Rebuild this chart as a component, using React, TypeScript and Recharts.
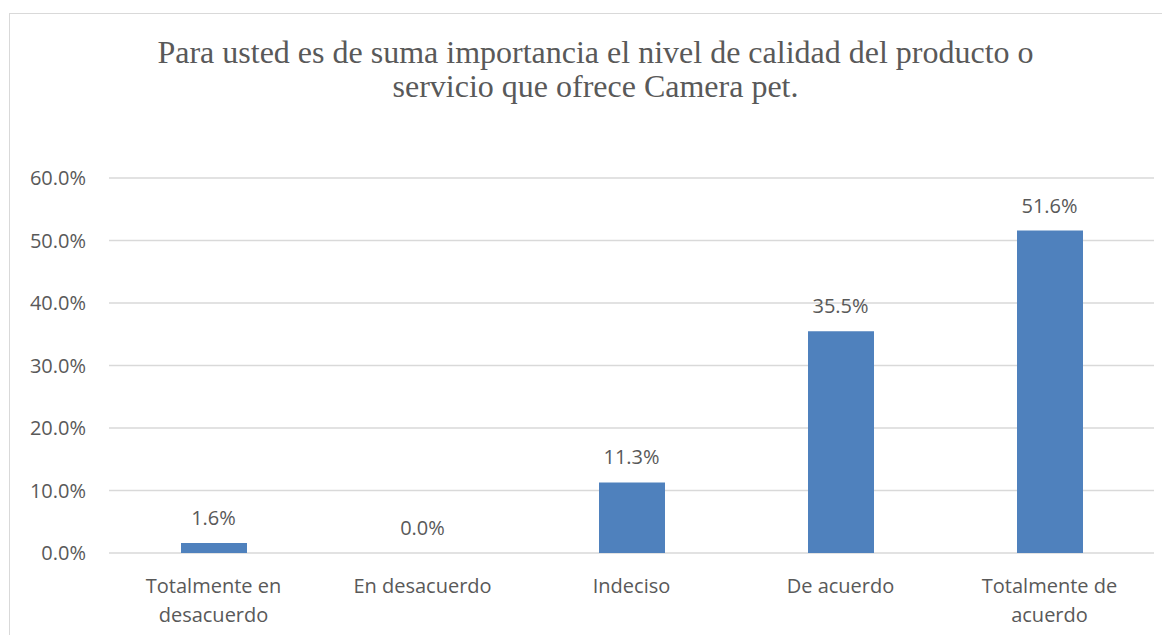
import React from 'react';
import { ComposedChart, Bar, Line, XAxis, YAxis, CartesianGrid, LabelList } from 'recharts';

const TITLE_LINES = [
  'Para usted es de suma importancia el nivel de calidad del producto o',
  'servicio que ofrece Camera pet.',
];

const categories = [
  'Totalmente en desacuerdo',
  'En desacuerdo',
  'Indeciso',
  'De acuerdo',
  'Totalmente de acuerdo',
];
const percentages = [1.6, 0.0, 11.3, 35.5, 51.6];
const yTicks = [0, 10, 20, 30, 40, 50, 60];

const data = categories.map((name, i) => ({ name, value: percentages[i] }));

const TEXT = '#595959';
const GRID = '#d9d9d9';
const BAR = '#4f81bd';
const SANS = '"Open Sans", sans-serif';

const fmt = (v: number) => `${Number(v).toFixed(1)}%`;

// greedy word wrap, roughly like Excel does for these labels
const wrap = (s: string, max = 13) => {
  const out: string[] = [];
  let line = '';
  s.split(' ').forEach((w) => {
    const next = line ? `${line} ${w}` : w;
    if (next.length > max && line) {
      out.push(line);
      line = w;
    } else {
      line = next;
    }
  });
  if (line) out.push(line);
  return out;
};

const CategoryTick = (props: any) => {
  const { x, y, payload } = props;
  const lines = wrap(payload.value);
  return (
    <text x={x} y={y} textAnchor="middle" fill={TEXT} fontSize={20} fontFamily={SANS}>
      {lines.map((l, i) => (
        <tspan key={i} x={x} dy={i === 0 ? 32 : 29}>
          {l}
        </tspan>
      ))}
    </text>
  );
};

export default function App() {
  return (
    <div style={{ position: 'relative', width: 1170, height: 643, margin: -8, overflow: 'hidden', background: '#fff' }}>
      <div
        style={{
          position: 'absolute',
          left: 9,
          top: 13,
          width: 1200,
          height: 700,
          border: `1.5px solid ${GRID}`,
          boxSizing: 'border-box',
        }}
      />
      <div
        style={{
          position: 'absolute',
          left: 0,
          top: 35,
          width: 1191,
          textAlign: 'center',
          fontFamily: '"Liberation Serif", "Times New Roman", serif',
          fontSize: 32,
          lineHeight: '34px',
          color: TEXT,
        }}
      >
        {TITLE_LINES.map((t, i) => (
          <div key={i}>{t}</div>
        ))}
      </div>
      <div style={{ position: 'absolute', left: 0, top: 0 }}>
        <ComposedChart
          width={1170}
          height={643}
          data={data}
          margin={{ top: 178, right: 16, bottom: 30, left: 0 }}
          barSize={66}
        >
          <CartesianGrid vertical={false} stroke={GRID} strokeWidth={1.5} />
          <XAxis
            dataKey="name"
            axisLine={false}
            tickLine={false}
            height={60}
            interval={0}
            tick={<CategoryTick />}
          />
          <YAxis
            width={109}
            domain={[0, 60]}
            ticks={yTicks}
            axisLine={false}
            tickLine={false}
            tickSize={0}
            tickMargin={23}
            tickFormatter={fmt}
            tick={{ fill: TEXT, fontSize: 20, fontFamily: SANS }}
          />
          <Bar dataKey="value" fill={BAR} isAnimationActive={false} />
          {/* invisible series that only carries the value labels, so 0.0% is shown too */}
          <Line
            dataKey="value"
            stroke="none"
            dot={false}
            activeDot={false}
            legendType="none"
            isAnimationActive={false}
          >
            <LabelList
              dataKey="value"
              position="top"
              offset={18}
              formatter={(v: any) => fmt(v)}
              style={{ fill: TEXT, fontSize: 20, fontFamily: SANS }}
            />
          </Line>
        </ComposedChart>
      </div>
    </div>
  );
}
